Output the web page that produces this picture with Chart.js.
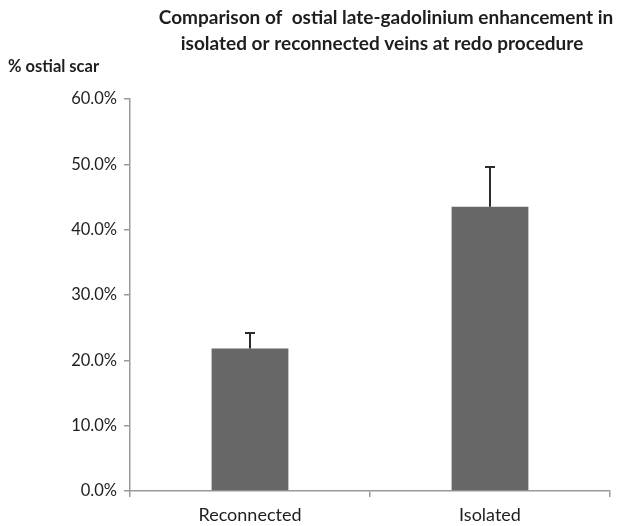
<!DOCTYPE html>
<html>
<head>
<meta charset="utf-8">
<script src="https://cdn.jsdelivr.net/npm/chart.js@4.4.1/dist/chart.umd.min.js"></script>
<style>
  html, body { margin: 0; padding: 0; background: #fff; }
  #wrap { width: 619px; height: 526px; }
</style>
</head>
<body>
<div id="wrap"><canvas id="chart" width="619" height="526"></canvas></div>
<script>
// data (percent)
const categories = ['Reconnected', 'Isolated'];
const scarValues = [21.8, 43.5];
const errorTops = [24.2, 49.6];
const titleLines = ['Comparison of  ostial late-gadolinium enhancement in', 'isolated or reconnected veins at redo procedure'];
const yLabel = '% ostial scar';

const FONT = 'Lato, "Open Sans", sans-serif';
const TEXT = '#1e1e1e';
const AXIS = '#9a9a9a';

// error bars + title + y label, drawn on top of the chart
const extras = {
    id: 'extras',
    afterDatasetsDraw(chart) {
        const ctx = chart.ctx;
        const x = chart.scales.x, y = chart.scales.y;
        ctx.save();
        ctx.strokeStyle = '#2b2b2b';
        ctx.lineWidth = 2;
        categories.forEach(function (c, i) {
            const cx = x.getPixelForValue(i);
            const top = y.getPixelForValue(errorTops[i]);
            const base = y.getPixelForValue(scarValues[i]);
            ctx.beginPath();
            ctx.moveTo(cx, base);
            ctx.lineTo(cx, top);
            ctx.moveTo(cx - 5, top);
            ctx.lineTo(cx + 5, top);
            ctx.stroke();
        });

        ctx.fillStyle = TEXT;
        ctx.textAlign = 'center';
        ctx.textBaseline = 'middle';
        ctx.font = 'bold 19px ' + FONT;
        ctx.fillText(titleLines[0], 386, 18);
        ctx.fillText(titleLines[1], 382, 44);

        ctx.textAlign = 'left';
        ctx.font = 'bold 16.5px ' + FONT;
        ctx.fillText(yLabel, 8, 67);
        ctx.restore();
    }
};

new Chart(document.getElementById('chart').getContext('2d'), {
    type: 'bar',
    data: {
        labels: categories,
        datasets: [{
            data: scarValues,
            backgroundColor: '#676767',
            borderWidth: 0,
            barPercentage: 0.64,
            categoryPercentage: 0.5
        }]
    },
    options: {
        responsive: false,
        animation: false,
        layout: { padding: { top: 99, right: 9, left: 0, bottom: 0 } },
        plugins: {
            legend: { display: false },
            tooltip: { enabled: false }
        },
        scales: {
            x: {
                grid: {
                    offset: true,
                    drawOnChartArea: false,
                    drawTicks: true,
                    tickLength: 6,
                    color: AXIS,
                    lineWidth: 1.5
                },
                border: { color: AXIS, width: 1.5 },
                ticks: { color: TEXT, font: { family: FONT, size: 18 }, padding: 7 },
                afterFit(scale) { scale.height = 35; }
            },
            y: {
                min: 0,
                max: 60,
                grid: {
                    drawOnChartArea: false,
                    drawTicks: true,
                    tickLength: 6,
                    color: AXIS,
                    lineWidth: 1.5
                },
                border: { color: AXIS, width: 1.5 },
                ticks: {
                    stepSize: 10,
                    color: TEXT,
                    font: { family: FONT, size: 16.5 },
                    padding: 7,
                    callback: function (v) { return v.toFixed(1) + '%'; }
                },
                afterFit(scale) { scale.width = 130; }
            }
        }
    },
    plugins: [extras]
});
</script>
</body>
</html>
